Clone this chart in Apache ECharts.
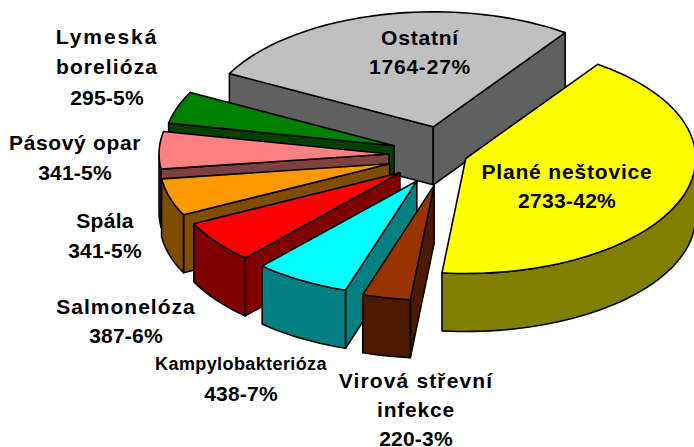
<!DOCTYPE html>
<html><head><meta charset="utf-8">
<style>html,body{margin:0;padding:0;background:#fff}#c{width:694px;height:447px}</style>
<script src="https://cdn.jsdelivr.net/npm/echarts@6/dist/echarts.min.js"></script>
</head><body><div id="c"></div>
<script>
// back-to-front drawing order, going counter-clockwise round the pie
const names = ['Ostatní','Lymeská borelióza','Pásový opar','Spála','Salmonelóza','Kampylobakterióza','Virová střevní infekce','Plané neštovice'];
const values = [1764,295,341,341,387,438,220,2733];
const topColors = ['#c0c0c0','#008000','#ff8080','#ff9900','#ff0000','#00ffff','#993300','#ffff00'];
const sideColors = ['#606060','#004000','#804040','#804c00','#800000','#008080','#4d1900','#808000'];
const explode = [58,56,58,60,59,60,62,20];
const labelLines = [['Ostatní'],['Lymeská','borelióza'],['Pásový opar'],['Spála'],['Salmonelóza'],['Kampylobakterióza'],['Virová střevní','infekce'],['Plané neštovice']];
const labelPos = [[420,37,29],[107,36,30.5],[75,142,30],[105,220,30],[126,306,29],[241,364,29],[416,380,29],[567,171,29]];
const labelSize = [21,21,21,21,21,18,21,21];
const labelTrack = [[.8,.8],[1.9,1.1,.2],[.65,.2],[.3,.2],[1,.2],[.4,.2],[1.15,.8,.2],[.83,.3]];

const CX=447, CY=155, RX=230, RY=115, DEPTH=58, START=305;
const total = values.reduce((a,b)=>a+b,0);
const rad = d=>d*Math.PI/180;
const data = values.map((v,i)=>[i,v]);

function renderItem(params, api){
  const i = api.value(0), v = api.value(1);
  let cum = 0;
  for(let k=0;k<i;k++) cum += values[k];
  const a2 = START - cum/total*360, a1 = a2 - v/total*360, mid=(a1+a2)/2;
  const ax = CX + explode[i]*Math.cos(rad(mid));
  const ay = CY + explode[i]*0.5*Math.sin(rad(mid));
  const pt = (a,d)=>[ax+RX*Math.cos(rad(a)), ay+RY*Math.sin(rad(a))+(d||0)];
  const arc = (s,e,d)=>{const n=Math.max(2,Math.ceil((e-s)/2)),o=[];for(let j=0;j<=n;j++)o.push(pt(s+(e-s)*j/n,d));return o;};
  const face = (points,fill)=>({type:'polygon',shape:{points},style:{fill,stroke:'#000',lineWidth:1.6,lineJoin:'round'}});
  const ch = [];
  const radial = a=>[[ax,ay],pt(a),pt(a,DEPTH),[ax,ay+DEPTH]];
  if(Math.cos(rad(a1))<0) ch.push(face(radial(a1),sideColors[i]));
  if(Math.cos(rad(a2))>0) ch.push(face(radial(a2),sideColors[i]));
  const s=Math.max(a1,0), e=Math.min(a2,180);
  if(e>s) ch.push(face(arc(s,e,0).concat(arc(s,e,DEPTH).reverse()),sideColors[i]));
  ch.push(face([[ax,ay]].concat(arc(a1,a2,0)),topColors[i]));
  return {type:'group',children:ch};
}

const texts = [], track = {};
values.forEach((v,i)=>{
  const lines = labelLines[i].concat([v+'-'+Math.round(v/total*100)+'%']);
  lines.forEach((t,j)=>{
    const size = j===lines.length-1 ? 21 : labelSize[i];
    track[t] = labelTrack[i][j];
    texts.push({type:'text',x:labelPos[i][0],y:labelPos[i][1]+j*labelPos[i][2],z:10,
      style:{text:t,fill:'#000',font:'bold '+size+'px "Liberation Sans", Arial, sans-serif',align:'center',verticalAlign:'middle'}});
  });
});

const chart = echarts.init(document.getElementById('c'),null,{renderer:'svg'});
function applyTracking(){
  document.querySelectorAll('#c svg text').forEach(el=>{
    const t = track[el.textContent];
    if(t!==undefined) el.style.letterSpacing = t+'px';
  });
}
chart.on('rendered',applyTracking);
chart.on('finished',applyTracking);
chart.setOption({
  animation:false,
  backgroundColor:'#fff',
  graphic:{elements:texts},
  series:[{type:'custom',coordinateSystem:'none',renderItem,data,silent:true,clip:false}]
});
applyTracking();
</script></body></html>
